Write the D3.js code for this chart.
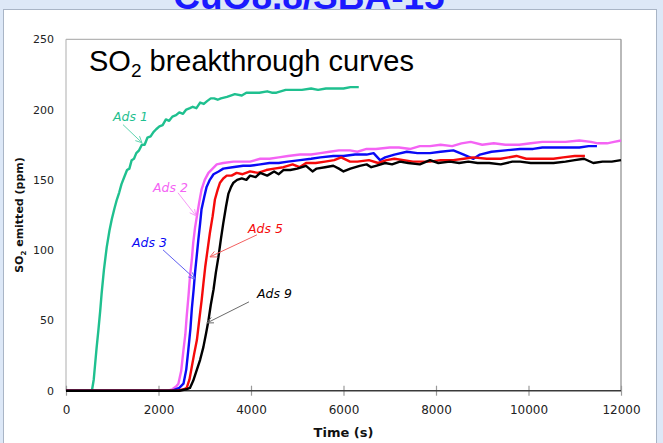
<!DOCTYPE html>
<html><head><meta charset="utf-8">
<script src="https://cdn.jsdelivr.net/npm/d3@7"></script>
<style>html,body{margin:0;padding:0;background:#dde8f7;overflow:hidden}</style>
</head><body>
<svg id="c" width="663" height="443"></svg>
<script>
// ---- data (time in s, SO2 in ppm) ----
const xTicks = [0, 2000, 4000, 6000, 8000, 10000, 12000];
const yTicks = [0, 50, 100, 150, 200, 250];

const ads1T = [0,560,600,630,660,700,740,770,820,880,940,990,1050,1100,1150,1200,1260,1320,1370,1420,1470,1520,1580,1640,1700,1760,1830,1890,1950,2020,2090,2160,2230,2300,2380,2450,2530,2600,2680,2740,2820,2900,2980,3050,3130,3200,3280,3350,3480,3560,3650,3800,3900,4000,4180,4350,4450,4550,4750,4900,5100,5300,5450,5620,5800,6000,6150,6330];
const ads1Y = [0,0,8,19,30,43,57,69,86,102,114,122,130,136,141,147,152,157,158,164,165,169,171,175,175,180,181,184,186,188,189,193,192,195,196,198,197,200,201,202,201,205,204,206,208,208,207,208,209,210,211,210,212,212,212,213,212,212,214,214,214,215,214,215,215,215,216,216];

const ads2T = [0,2200,2300,2380,2430,2490,2540,2580,2610,2650,2680,2720,2750,2790,2830,2880,2930,3000,3080,3170,3260,3400,3620,3800,3980,4200,4400,4600,4800,5060,5300,5500,5700,5900,6140,6300,6500,6700,7000,7200,7450,7650,7870,8100,8350,8550,8750,9000,9250,9500,9800,10050,10300,10540,10800,11100,11350,11500,11700,11850,12000];
const ads2Y = [0,0,1,3,5,14,29,40,53,68,81,93,105,116,124,134,143,150,155,158,161,162,163,163,163,165,165,166,167,168,168,169,170,171,171,170,172,172,173,173,172,174,174,175,174,176,177,175,176,175,175,176,177,177,177,178,177,176,176,177,178];

const ads3T = [0,2300,2450,2540,2600,2645,2690,2720,2760,2790,2830,2860,2900,2930,2990,3040,3110,3190,3300,3400,3600,3830,3980,4200,4400,4600,4800,5060,5300,5500,5780,6000,6250,6500,6650,6790,6900,7100,7370,7600,7870,8100,8375,8600,8810,8950,9200,9500,9820,10100,10300,10540,10800,11100,11300,11480];
const ads3Y = [0,0,2,5,15,29,44,58,72,84,97,107,119,129,138,145,150,154,156,158,159,160,160,161,162,162,163,164,165,166,167,167,168,168,169,164,166,168,170,169,169,170,171,168,165,168,170,171,172,172,173,173,173,173,174,174];

const ads5T = [0,2400,2550,2610,2670,2720,2770,2830,2880,2935,2970,3010,3060,3110,3170,3220,3280,3330,3400,3475,3580,3690,3820,3980,4150,4330,4500,4700,4900,5050,5190,5400,5600,5800,5950,6140,6300,6550,6750,6930,7100,7300,7500,7650,7870,8100,8375,8600,8800,9100,9400,9740,9950,10200,10540,10750,11000,11220];
const ads5Y = [0,0,1,2,8,17,26,36,50,65,76,88,100,112,124,136,143,148,151,153,153,155,154,156,155,157,158,159,161,159,162,162,163,164,166,163,163,164,162,164,165,164,163,163,163,164,164,165,166,165,165,167,165,165,165,166,167,167];

const ads9T = [0,2450,2600,2680,2750,2830,2900,2970,3030,3080,3130,3190,3240,3295,3350,3400,3460,3510,3570,3620,3700,3800,3900,3980,4100,4200,4350,4500,4600,4700,4850,5000,5190,5260,5330,5420,5600,5780,5900,6000,6150,6350,6500,6600,6700,6900,7050,7220,7400,7650,7870,8050,8300,8500,8700,8900,9150,9400,9650,9820,10050,10300,10540,10800,11000,11200,11400,11600,11800,12000];
const ads9Y = [0,0,1,2,7,15,22,31,41,50,61,72,84,95,108,119,131,140,145,148,150,151,150,153,152,155,153,156,154,157,157,158,160,158,156,158,159,160,158,156,158,160,161,159,160,162,161,163,162,161,164,162,163,162,163,162,162,161,163,163,162,162,162,163,164,165,162,163,163,164];

const seriesNames = ["Ads 1", "Ads 2", "Ads 3", "Ads 5", "Ads 9"];
const seriesColors = ["#1fc08f", "#f463f4", "#0a0af5", "#f50a0a", "#000000"];
const arrowColors = ["#5fd4b0", "#f79af7", "#5f5ff0", "#f36060", "#6a6a6a"];
const seriesT = [ads1T, ads2T, ads3T, ads5T, ads9T];
const seriesY = [ads1Y, ads2Y, ads3Y, ads5Y, ads9Y];
// annotation label anchors and arrows (data units)
const labelPos = [[1016,192.1],[1881,141.5],[1427,102.3],[3935,112.3],[4129,66.0]];
const arrowFrom = [[1232,189.3],[2421,140.8],[2097,100.2],[4129,110.9],[3956,63.2]];
const arrowTo = [[1643,176.4],[2811,124.4],[2789,79.5],[3113,95.2],[3048,48.2]];

// ---- drawing ----
const svg = d3.select("#c");
const L = 66, R = 621, T = 39.3, B = 390.7;
const x = d3.scaleLinear().domain([0, 12000]).range([L, R]);
const y = d3.scaleLinear().domain([0, 250]).range([B, T]);

// panel
svg.append("rect").attr("x", 3.5).attr("y", 9.5).attr("width", 653).attr("height", 440)
  .attr("fill", "#fff").attr("stroke", "#a9b5c6").attr("stroke-width", 1);

// top title (partly cut off, as in the slide)
svg.append("text").attr("x", 309).attr("y", 9).attr("text-anchor", "middle")
  .attr("font-family", "Liberation Sans, Arial, sans-serif").attr("font-weight", "bold")
  .attr("font-size", 37).attr("fill", "#1a1aff").text("CuO8.8/SBA-15");

// frame
svg.append("line").attr("x1", L).attr("x2", L).attr("y1", T).attr("y2", B).attr("stroke", "#c8c8c8").attr("stroke-width", 1.5);
svg.append("line").attr("x1", L).attr("x2", R).attr("y1", T).attr("y2", T).attr("stroke", "#b5b5b5").attr("stroke-width", 1.2);
svg.append("line").attr("x1", R).attr("x2", R).attr("y1", T).attr("y2", B).attr("stroke", "#8a8a8a").attr("stroke-width", 1.2);

// x axis
const xa = svg.append("g").attr("transform", `translate(0,${B})`)
  .call(d3.axisBottom(x).tickValues(xTicks).tickFormat(d3.format("d")).tickSize(5).tickPadding(10));
xa.select(".domain").remove();
xa.selectAll(".tick line").attr("y1", -5).attr("y2", 5).attr("stroke", "#9a9a9a").attr("stroke-width", 1.2);
xa.selectAll(".tick text").attr("font-family", "DejaVu Sans, sans-serif").attr("font-size", 12).attr("fill", "#222");

// y axis
const ya = svg.append("g").attr("transform", `translate(${L},0)`)
  .call(d3.axisLeft(y).tickValues(yTicks).tickSize(0).tickPadding(12));
ya.select(".domain").remove();
ya.selectAll(".tick text").attr("font-family", "DejaVu Sans, sans-serif").attr("font-size", 11).attr("fill", "#222");

// bottom axis line
svg.append("line").attr("x1", L).attr("x2", R).attr("y1", B).attr("y2", B).attr("stroke", "#3a3a3a").attr("stroke-width", 1.6);

// axis titles
svg.append("text").attr("x", (L + R) / 2).attr("y", 437).attr("text-anchor", "middle")
  .attr("font-family", "DejaVu Sans, sans-serif").attr("font-weight", "bold").attr("font-size", 13)
  .attr("fill", "#111").text("Time (s)");
const yt = svg.append("text").attr("transform", "translate(23,215) rotate(-90)").attr("text-anchor", "middle")
  .attr("font-family", "DejaVu Sans, sans-serif").attr("font-weight", "bold").attr("font-size", 11).attr("fill", "#111");
yt.append("tspan").text("SO");
yt.append("tspan").attr("font-size", 7).attr("dy", 3).text("2");
yt.append("tspan").attr("dy", -3).text(" emitted (ppm)");

// chart inner title
const ct = svg.append("text").attr("x", 89).attr("y", 71)
  .attr("font-family", "Liberation Sans, Arial, sans-serif").attr("font-size", 29).attr("fill", "#000");
ct.append("tspan").text("SO");
ct.append("tspan").attr("font-size", 19).attr("dy", 6).text("2");
ct.append("tspan").attr("dy", -6).text(" breakthrough curves");

// curves
const line = d3.line().x(d => x(d[0])).y(d => y(d[1]));
seriesNames.forEach((name, i) => {
  const pts = seriesT[i].map((t, k) => [t, seriesY[i][k]]);
  svg.append("path").datum(pts).attr("d", line).attr("fill", "none")
    .attr("stroke", seriesColors[i]).attr("stroke-width", 2.4).attr("stroke-linejoin", "round");
});

// annotations
seriesNames.forEach((name, i) => {
  svg.append("text").attr("x", x(labelPos[i][0])).attr("y", y(labelPos[i][1]))
    .attr("font-family", "DejaVu Sans, sans-serif").attr("font-size", 12.5).attr("font-style", "oblique")
    .attr("fill", seriesColors[i]).text(name);
  const x1 = x(arrowFrom[i][0]), y1 = y(arrowFrom[i][1]), x2 = x(arrowTo[i][0]), y2 = y(arrowTo[i][1]);
  svg.append("line").attr("x1", x1).attr("y1", y1).attr("x2", x2).attr("y2", y2)
    .attr("stroke", arrowColors[i]).attr("stroke-width", 1);
  const a = Math.atan2(y2 - y1, x2 - x1), h = 7, w = 0.45;
  const p = [[x2 - h * Math.cos(a - w), y2 - h * Math.sin(a - w)], [x2, y2], [x2 - h * Math.cos(a + w), y2 - h * Math.sin(a + w)]];
  svg.append("path").attr("d", d3.line()(p)).attr("fill", "none").attr("stroke", arrowColors[i]).attr("stroke-width", 1);
});
</script>
</body></html>
